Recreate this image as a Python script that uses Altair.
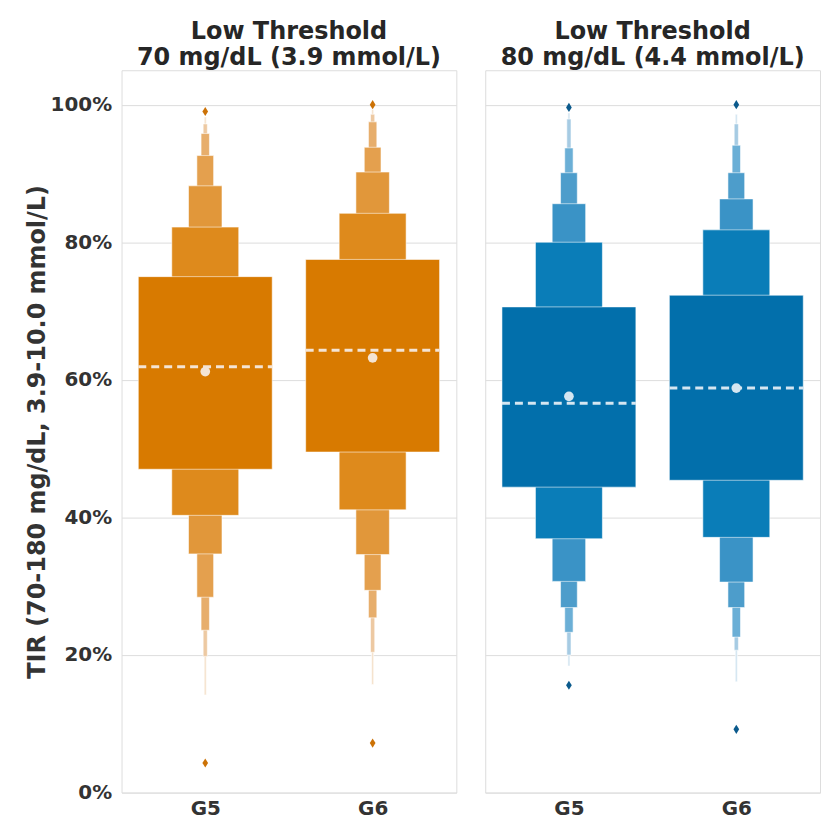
import altair as alt
import pandas as pd

groups = ["G5", "G6"]
panel_titles = [
    ["Low Threshold", "70 mg/dL (3.9 mmol/L)"],
    ["Low Threshold", "80 mg/dL (4.4 mmol/L)"],
]
y_title = "TIR (70-180 mg/dL, 3.9-10.0 mmol/L)"
y_ticks = [0, 20, 40, 60, 80, 100]

# letter-value box bounds (percent), level 1 (quartiles) ... level 7
t70_g5_lower = [47.0, 40.3, 34.7, 28.4, 23.6, 19.8, 14.2]
t70_g5_upper = [75.0, 82.2, 88.2, 92.6, 95.8, 97.2, 98.2]
t70_g6_lower = [49.5, 41.1, 34.6, 29.4, 25.4, 20.4, 15.7]
t70_g6_upper = [77.5, 84.2, 90.2, 93.8, 97.5, 98.6, 99.3]
t80_g5_lower = [44.4, 36.9, 30.7, 26.9, 23.3, 20.0, 18.4]
t80_g5_upper = [70.6, 80.0, 85.6, 90.1, 93.7, 97.9, 98.8]
t80_g6_lower = [45.4, 37.1, 30.6, 26.9, 22.6, 20.7, 16.1]
t80_g6_upper = [72.3, 81.8, 86.3, 90.1, 94.1, 97.2, 98.6]

t70_medians = [61.9, 64.3]
t80_medians = [56.6, 58.8]
t70_means = [61.2, 63.2]
t80_means = [57.6, 58.8]

t70_outliers = [[99.0, 4.3], [100.0, 7.2]]
t80_outliers = [[99.6, 15.6], [100.0, 9.2]]

orange_levels = ["#D87A00", "#DE8A1C", "#E1973A", "#E4A04E", "#E7AE6C", "#EDC9A2", "#F5E2CC"]
blue_levels = ["#026FAB", "#0A7DB8", "#3A93C6", "#4D9DCB", "#6BAFD6", "#A6CBE3", "#D3E5F1"]

FONT = "DejaVu Sans"
DIAMOND = "M0,-1L0.62,0L0,1L-0.62,0Z"


def panel(lowers, uppers, medians, means, outliers, palette, outlier_color,
          light, title, show_y):
    box_rows, stat_rows, out_rows = [], [], []
    for gi, g in enumerate(groups):
        center = gi + 0.5
        for li, (lo, hi) in enumerate(zip(lowers[gi], uppers[gi])):
            half = 0.4 * 0.5 ** li
            box_rows.append(dict(group=g, level=li, low=lo, high=hi,
                                 x0=center - half, x1=center + half,
                                 color=palette[li]))
        stat_rows.append(dict(group=g, xc=center, x0=center - 0.4, x1=center + 0.4,
                              median=medians[gi], mean=means[gi]))
        for v in outliers[gi]:
            out_rows.append(dict(group=g, xc=center, value=v))
    boxes_df = pd.DataFrame(box_rows).sort_values("level", ascending=False)
    stats_df = pd.DataFrame(stat_rows)
    out_df = pd.DataFrame(out_rows)

    label_expr = " : ".join(
        [f"datum.value == {gi + 0.5} ? '{g}'" for gi, g in enumerate(groups)]
    ) + " : ''"
    xscale = alt.Scale(domain=[0, 2], nice=False, zero=False)
    xaxis = alt.Axis(values=[gi + 0.5 for gi in range(len(groups))], labelExpr=label_expr,
                     title=None, ticks=False, domain=False, grid=False,
                     labelFontSize=20, labelFont=FONT, labelFontWeight="bold",
                     labelColor="#333333", labelPadding=6)
    yscale = alt.Scale(domain=[0, 105], nice=False, zero=True)
    if show_y:
        yaxis = alt.Axis(values=y_ticks, labelExpr="datum.value + '%'", title=y_title,
                         ticks=False, domain=False, grid=True, gridColor="#DDDDDD",
                         labelFontSize=20, labelFont=FONT, labelFontWeight="bold",
                         labelColor="#333333", labelPadding=10,
                         titleFontSize=24, titleFont=FONT, titleFontWeight="bold",
                         titleColor="#333333", titlePadding=1)
    else:
        yaxis = alt.Axis(values=y_ticks, labels=False, title=None, ticks=False,
                         domain=False, grid=True, gridColor="#DDDDDD")

    base_box = alt.Chart(boxes_df)
    boxes = base_box.mark_rect(stroke="#FFFFFF", strokeWidth=0.8, strokeOpacity=0.7).encode(
        x=alt.X("x0:Q", scale=xscale, axis=xaxis),
        x2="x1:Q",
        y=alt.Y("low:Q", scale=yscale, axis=yaxis),
        y2="high:Q",
        color=alt.Color("color:N", scale=None),
        order=alt.Order("level:Q", sort="descending"),
    )
    median = alt.Chart(stats_df).mark_rule(
        color=light, strokeWidth=3, strokeDash=[8, 5]
    ).encode(x="x0:Q", x2="x1:Q", y="median:Q")
    mean = alt.Chart(stats_df).mark_point(
        filled=True, shape="circle", size=95, color=light, opacity=1
    ).encode(x="xc:Q", y="mean:Q")
    outs = alt.Chart(out_df).mark_point(
        filled=True, shape=DIAMOND, size=85, color=outlier_color, opacity=1
    ).encode(x="xc:Q", y="value:Q")

    return alt.layer(boxes, median, mean, outs).properties(
        width=336, height=725,
        title=alt.TitleParams(text=title, fontSize=24, font=FONT, fontWeight="bold",
                              color="#262626", anchor="middle", lineHeight=26, offset=0),
    )


left = panel([t70_g5_lower, t70_g6_lower], [t70_g5_upper, t70_g6_upper],
             t70_medians, t70_means, t70_outliers, orange_levels, "#CC7206",
             "#F4E4D4", panel_titles[0], True)
right = panel([t80_g5_lower, t80_g6_lower], [t80_g5_upper, t80_g6_upper],
              t80_medians, t80_means, t80_outliers, blue_levels, "#0B5A8C",
              "#D5E6F1", panel_titles[1], False)

chart = alt.hconcat(left, right, spacing=27).configure_view(
    stroke="#DDDDDD", strokeWidth=1
).properties(
    padding={"left": 24, "top": 18, "right": 0, "bottom": 0},
    background="white",
)

chart.save("out.html", embed_options={"renderer": "svg", "actions": False})
